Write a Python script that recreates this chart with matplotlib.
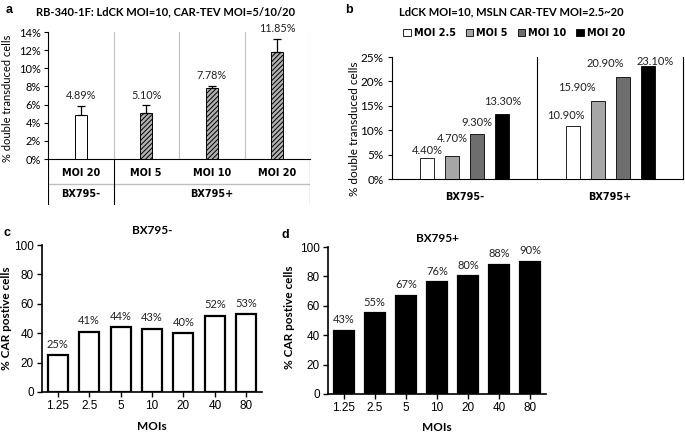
import numpy as np
import matplotlib
matplotlib.use('Agg')
import matplotlib.pyplot as plt
from matplotlib.patches import Patch

plt.rcParams['font.family'] = ['Liberation Sans', 'DejaVu Sans']
plt.rcParams['hatch.linewidth'] = 0.7
plt.rcParams['axes.linewidth'] = 0.8

CAL = ['Lato', 'DejaVu Sans']        # stands in for Calibri
WIDE_BOLD = ['DejaVu Sans']

# panel a data
a_moi = ['MOI 20', 'MOI 5', 'MOI 10', 'MOI 20']
a_groups = ['BX795-', 'BX795+']
a_group_sizes = [1, 3]
a_values = [4.89, 5.10, 7.78, 11.85]
a_err = [0.94, 0.80, 0.28, 1.40]
a_hatched = [False, True, True, True]

# panel b data
b_groups = ['BX795-', 'BX795+']
b_series = ['MOI 2.5', 'MOI 5', 'MOI 10', 'MOI 20']
b_values = [
    [4.40, 10.90],
    [4.70, 15.90],
    [9.30, 20.90],
    [13.30, 23.10],
]
b_colors = ['white', '#a6a6a6', '#6e6e6e', 'black']

# panels c and d data
cd_mois = ['1.25', '2.5', '5', '10', '20', '40', '80']
c_values = [25, 41, 44, 43, 40, 52, 53]
d_values = [43, 55, 67, 76, 80, 88, 90]

W, H = 685, 433


def px_axes(left, top, right, bottom):
    return fig.add_axes([left / W, 1 - bottom / H, (right - left) / W, (bottom - top) / H])


fig = plt.figure(figsize=(6.85, 4.33), dpi=100, facecolor='white')

# ---------------- panel a ----------------
ax = px_axes(48, 32, 310, 159)
x = np.arange(len(a_values)) + 0.5
for i in range(len(a_values)):
    ax.bar(x[i], a_values[i], width=0.18, color='#b0b0b0' if a_hatched[i] else 'white',
           edgecolor='black', linewidth=0.7, hatch='///////' if a_hatched[i] else None, zorder=3)
ax.errorbar(x, a_values, yerr=[np.zeros(len(a_err)), a_err], fmt='none', ecolor='black',
            elinewidth=0.9, capsize=3, capthick=0.9, zorder=4)
for xi, v, e in zip(x, a_values, a_err):
    ax.annotate(f'{v:.2f}%', (xi, v + e), xytext=(0, 3.5), textcoords='offset points',
                ha='center', va='bottom', fontsize=7.8, color='#222222', family=CAL)
for g in range(1, len(a_values) + 1):
    ax.axvline(g, color='#bfbfbf', linewidth=0.8, zorder=1)
ax.set_xlim(0, len(a_values))
ax.set_ylim(0, 14)
ax.set_yticks(np.arange(0, 15, 2))
ax.set_yticklabels([f'{t}%' for t in range(0, 15, 2)], family=CAL)
ax.set_xticks([])
ax.tick_params(axis='y', direction='out', length=3, width=0.8, labelsize=8, pad=2)
for s in ['top', 'right']:
    ax.spines[s].set_visible(False)
ax.set_ylabel('% double transduced cells', fontsize=8, family=CAL)
ax.yaxis.set_label_coords(-0.134, 0.48)
ax.text(0.45, 1.157, 'RB-340-1F: LdCK MOI=10, CAR-TEV MOI=5/10/20', transform=ax.transAxes,
        ha='center', va='center', fontsize=8, fontweight='bold', family=CAL)

# table under panel a
axt = px_axes(48, 159, 310, 205)
axt.set_xlim(0, len(a_values))
axt.set_ylim(0, 46)
axt.axis('off')
axt.plot([0, len(a_values)], [21, 21], color='#bfbfbf', linewidth=1.0)
edges = np.concatenate([[0], np.cumsum(a_group_sizes)])
for e in edges:
    axt.plot([e, e], [0, 46], color='black', linewidth=0.8)
for xi, lab in zip(x, a_moi):
    axt.text(xi, 32, lab, ha='center', va='center', fontsize=7, fontweight='bold', family=WIDE_BOLD)
for k, lab in enumerate(a_groups):
    axt.text((edges[k] + edges[k + 1]) / 2, 11, lab, ha='center', va='center',
             fontsize=7, fontweight='bold', family=WIDE_BOLD)

fig.text(6 / W, 1 - 10 / H, 'a', fontsize=9, fontweight='bold', ha='left', va='center')

# ---------------- panel b ----------------
ax = px_axes(392, 57, 683, 179)
xb = np.arange(len(b_groups))
offsets = [-0.258, -0.086, 0.086, 0.258]
# Excel moved some labels by hand; (series, group) -> (dx, dy) in pixels
shift = {(0, 0): (0, -4.5), (1, 0): (0, 6), (3, 0): (0, 1),
         (0, 1): (-7, -1.5), (1, 1): (-21, 2), (2, 1): (-17, 2), (3, 1): (7, -7)}
for k, name in enumerate(b_series):
    bars = ax.bar(xb + offsets[k], b_values[k], width=0.096, color=b_colors[k],
                  edgecolor='black', linewidth=0.6, label=name, zorder=3)
    for j, r in enumerate(bars):
        dx, dy = shift.get((k, j), (0, 0))
        ax.annotate(f'{r.get_height():.2f}%', (r.get_x() + r.get_width() / 2, r.get_height()),
                    xytext=(dx * 0.72, (6 + dy) * 0.72), textcoords='offset points',
                    ha='center', va='bottom', fontsize=8, color='#222222', family=CAL)
ax.axvline(0.5, color='black', linewidth=0.8)
ax.set_xlim(-0.5, len(b_groups) - 0.5)
ax.set_ylim(0, 25)
ax.set_yticks(np.arange(0, 26, 5))
ax.set_yticklabels([f'{t}%' for t in range(0, 26, 5)], family=CAL)
ax.set_xticks(xb)
ax.set_xticklabels(b_groups, fontsize=7, fontweight='bold', family=WIDE_BOLD)
ax.tick_params(axis='y', direction='out', length=3, width=0.8, labelsize=8.5, pad=3)
ax.tick_params(axis='x', length=0, pad=9)
ax.spines['top'].set_visible(False)
ax.set_ylabel('% double transduced cells', fontsize=8.5, family=CAL)
ax.yaxis.set_label_coords(-0.110, 0.41)
handles = [Patch(facecolor=c, edgecolor='black', linewidth=0.6) for c in b_colors]
ax.legend(handles, b_series, loc='center', bbox_to_anchor=(0.42, 1.197), ncol=4,
          frameon=False, handlelength=0.8, handleheight=0.8, handletextpad=0.3,
          columnspacing=1.0, prop={'family': WIDE_BOLD, 'weight': 'bold', 'size': 7})
ax.text(0.41, 1.369, 'LdCK MOI=10, MSLN CAR-TEV MOI=2.5~20', transform=ax.transAxes,
        ha='center', va='center', fontsize=8, fontweight='bold', family=CAL)
fig.text(345 / W, 1 - 10 / H, 'b', fontsize=9, fontweight='bold', ha='left', va='center')


# ---------------- panels c, d ----------------
def moi_panel(ax, values, color, title, title_y, ylab_x, ylab_y, xlab_y):
    xc = np.arange(len(cd_mois))
    ax.bar(xc, values, width=0.64, color=color, edgecolor='black', linewidth=1.6, zorder=3)
    for xi, v in zip(xc, values):
        ax.annotate(f'{v}%', (xi, v), xytext=(0, 4), textcoords='offset points',
                    ha='center', va='bottom', fontsize=8, color='#222222', family=CAL)
    ax.set_xlim(-0.5, len(cd_mois) - 0.5)
    ax.set_ylim(0, 100)
    ax.set_yticks(np.arange(0, 101, 20))
    ax.set_xticks(xc)
    ax.set_xticklabels(cd_mois)
    ax.tick_params(direction='out', length=3.5, width=1.0, labelsize=8.5, pad=2.5)
    for s in ['top', 'right']:
        ax.spines[s].set_visible(False)
    for s in ['left', 'bottom']:
        ax.spines[s].set_linewidth(1.2)
    ax.set_ylabel('% CAR postive cells', fontsize=8.5, fontweight='bold', family=CAL)
    ax.yaxis.set_label_coords(ylab_x, ylab_y)
    ax.set_xlabel('MOIs', fontsize=8.5, fontweight='bold', family=CAL)
    ax.xaxis.set_label_coords(0.5, xlab_y)
    ax.text(0.5, title_y, title, transform=ax.transAxes, ha='center', va='center',
            fontsize=8.5, fontweight='bold', family=CAL)


ax = px_axes(42, 245, 262, 392)
moi_panel(ax, c_values, 'white', 'BX795-', 1.10, -0.136, 0.50, -0.197)
fig.text(3 / W, 1 - 233 / H, 'c', fontsize=9, fontweight='bold', ha='left', va='center')

ax = px_axes(328, 247, 546, 394)
moi_panel(ax, d_values, 'black', 'BX795+', 1.061, -0.151, 0.52, -0.19)
fig.text(282 / W, 1 - 235 / H, 'd', fontsize=9, fontweight='bold', ha='left', va='center')

fig.savefig('out.png', dpi=100, facecolor='white')
